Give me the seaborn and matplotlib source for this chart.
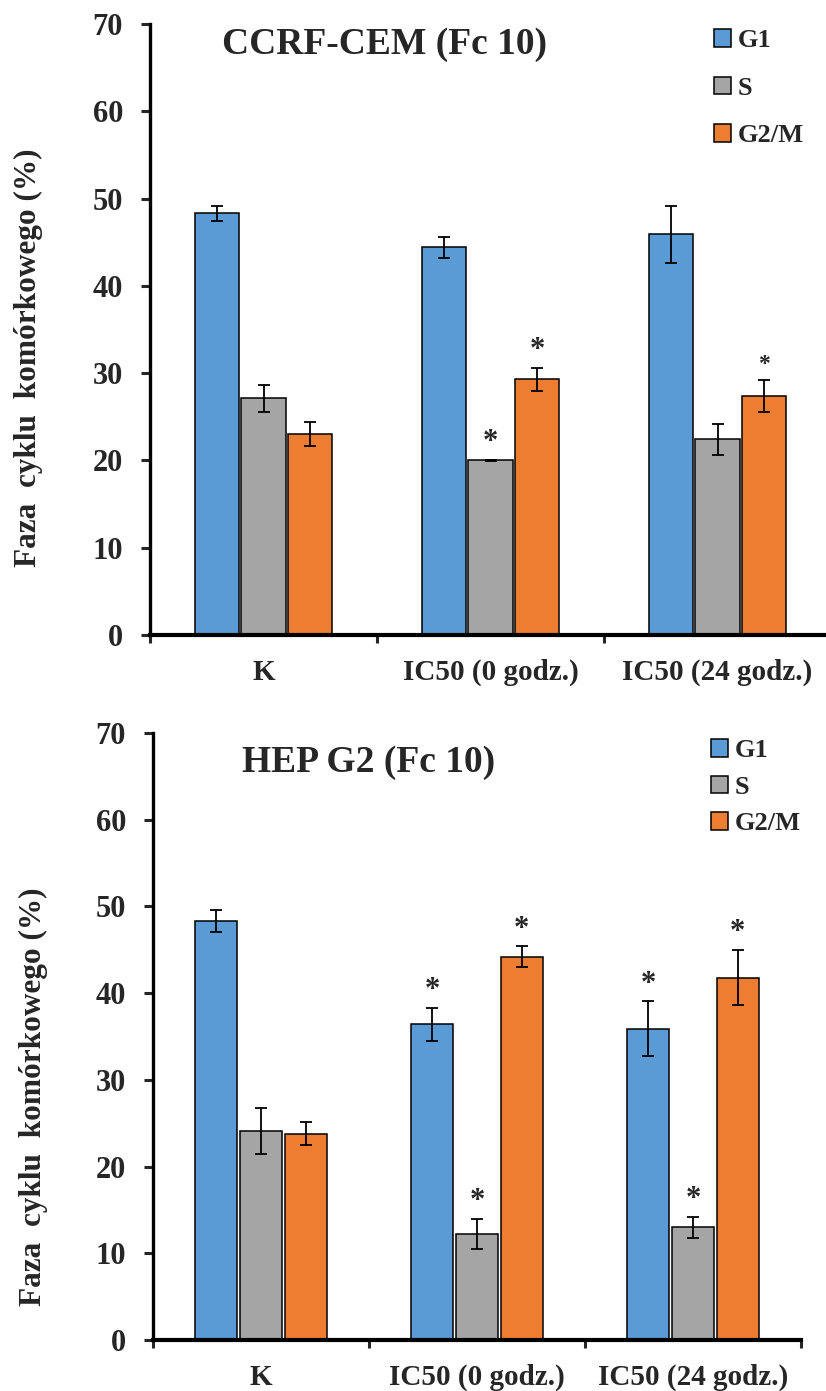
import matplotlib
matplotlib.use("Agg")
import matplotlib.pyplot as plt
import seaborn as sns
import pandas as pd
from matplotlib.container import BarContainer

groups = ["K", "IC50 (0 godz.)", "IC50 (24 godz.)"]
phases = ["G1", "S", "G2/M"]
colors = ["#5B9BD5", "#A5A5A5", "#ED7D31"]

# CCRF-CEM
ccrf_g1 = [48.3, 44.4, 45.9]
ccrf_g1_err = [0.9, 1.2, 3.3]
ccrf_s = [27.1, 20.0, 22.4]
ccrf_s_err = [1.5, 0.1, 1.8]
ccrf_g2m = [23.05, 29.3, 27.4]
ccrf_g2m_err = [1.4, 1.3, 1.8]
ccrf_sig_g1 = [False, False, False]
ccrf_sig_s = [False, True, False]
ccrf_sig_g2m = [False, True, True]

# HEP G2
hep_g1 = [48.3, 36.4, 35.9]
hep_g1_err = [1.3, 1.9, 3.15]
hep_s = [24.1, 12.2, 13.0]
hep_s_err = [2.7, 1.75, 1.2]
hep_g2m = [23.8, 44.2, 41.8]
hep_g2m_err = [1.35, 1.2, 3.15]
hep_sig_g1 = [False, True, True]
hep_sig_s = [False, True, True]
hep_sig_g2m = [False, True, True]

sns.set_style("white")
plt.rcParams["font.family"] = ["Liberation Serif", "DejaVu Serif"]
plt.rcParams["font.weight"] = "bold"


def make_df(g1, s, g2m):
    rows = []
    for ph, vals in zip(phases, [g1, s, g2m]):
        for g, v in zip(groups, vals):
            rows.append({"grupa": g, "faza": ph, "wartosc": v})
    return pd.DataFrame(rows)


def panel(ax, df, errs, sigs, title, title_pos, leg_anchor, leg_space,
          star_sizes, ylab_coords):
    sns.barplot(data=df, x="grupa", y="wartosc", hue="faza", order=groups,
                hue_order=phases, palette=colors, errorbar=None, width=0.62,
                gap=0.06, edgecolor="black", linewidth=1.1, saturation=1,
                legend=False, ax=ax)
    bars = [c for c in ax.containers if isinstance(c, BarContainer)]
    for cont, err, sig, ss in zip(bars, errs, sigs, star_sizes):
        for rect, e, sg, sz in zip(cont.patches, err, sig, ss):
            xc = rect.get_x() + rect.get_width() / 2
            h = rect.get_height()
            ax.errorbar(xc, h, yerr=e, fmt="none", ecolor="black",
                        elinewidth=1.3, capsize=4.5, capthick=1.3, zorder=5)
            if sg:
                ax.annotate("*", xy=(xc, h + e), xytext=(0, 7),
                            textcoords="offset points", ha="center",
                            va="baseline", fontsize=sz, fontweight="bold")
    ax.legend(handles=[c.patches[0] for c in bars], labels=phases,
              loc="upper left", bbox_to_anchor=leg_anchor, frameon=False,
              fontsize=19, handlelength=0.65, handleheight=0.65,
              handletextpad=0.25, labelspacing=leg_space, borderpad=0,
              borderaxespad=0)
    ax.text(title_pos[0], title_pos[1], title, transform=ax.transAxes,
            fontsize=27, fontweight="bold", ha="left", va="center")
    ax.set_ylim(0, 70)
    ax.set_xlim(-0.5, 2.5)
    ax.set_yticks(range(0, 71, 10))
    ax.set_xticks(range(3))
    ax.set_xticklabels(groups)
    ax.set_xticks([-0.5, 0.5, 1.5, 2.5], minor=True)
    ax.tick_params(axis="y", which="major", left=True, length=6.5, width=2.2,
                   direction="out", labelsize=22, pad=13)
    ax.tick_params(axis="x", which="major", length=0, labelsize=21, pad=17)
    ax.tick_params(axis="x", which="minor", bottom=True, length=6, width=2.2,
                   direction="out")
    for lab in ax.get_xticklabels() + ax.get_yticklabels():
        lab.set_fontweight("bold")
    ax.set_xlabel("")
    ax.set_ylabel("Faza  cyklu  komórkowego (%)", fontsize=22.5,
                  fontweight="bold")
    ax.yaxis.set_label_coords(*ylab_coords)
    sns.despine(ax=ax)
    ax.spines["left"].set_linewidth(2.4)
    ax.spines["bottom"].set_linewidth(3.0)
    ax.spines["left"].set_color("black")
    ax.spines["bottom"].set_color("black")


fig = plt.figure(figsize=(8.26, 13.91), dpi=100)
ax1 = fig.add_axes([150 / 826, 1 - 635 / 1391, 681 / 826, 611 / 1391])
ax2 = fig.add_axes([153 / 826, 1 - 1340 / 1391, 648 / 826, 607 / 1391])

panel(ax1, make_df(ccrf_g1, ccrf_s, ccrf_g2m),
      [ccrf_g1_err, ccrf_s_err, ccrf_g2m_err],
      [ccrf_sig_g1, ccrf_sig_s, ccrf_sig_g2m],
      "CCRF-CEM (Fc 10)", (0.106, 0.966), (0.828, 0.992), 0.93,
      [[22, 22, 22], [22, 22, 22], [22, 22, 17]], (-0.157, 0.453))
panel(ax2, make_df(hep_g1, hep_s, hep_g2m),
      [hep_g1_err, hep_s_err, hep_g2m_err],
      [hep_sig_g1, hep_sig_s, hep_sig_g2m],
      "HEP G2 (Fc 10)", (0.137, 0.952), (0.861, 0.99), 0.51,
      [[22, 22, 22], [22, 22, 22], [22, 22, 22]], (-0.162, 0.40))

fig.savefig("out.png", dpi=100)
